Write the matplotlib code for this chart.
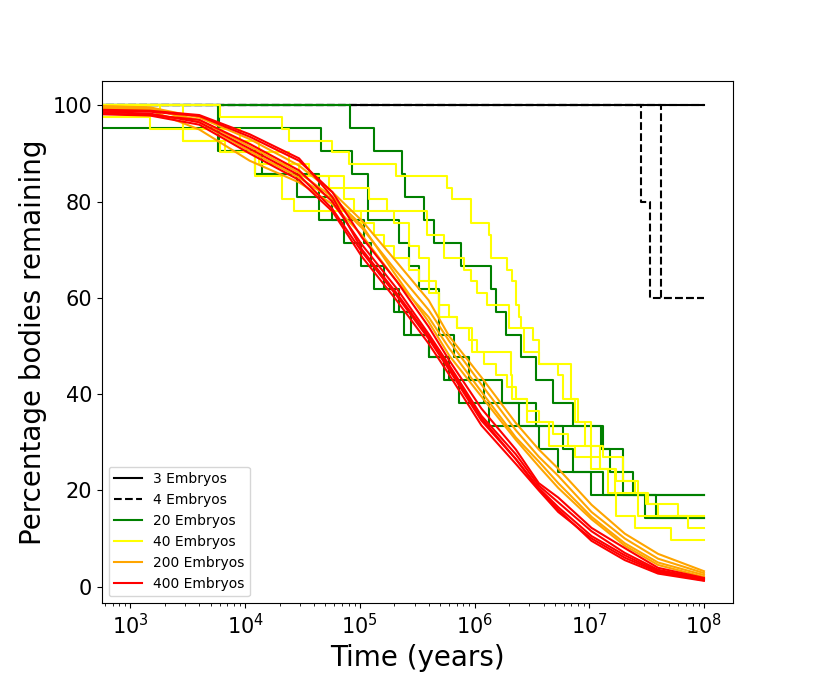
import numpy as np
import matplotlib
matplotlib.use("Agg")
import matplotlib.pyplot as plt

# times are stored as log10(years); bodies remaining as counts (step runs)
# or as percentages (large runs, read as smooth curves)

# 3 embryos (4 bodies) - nothing is lost
solid_logt = [2.5, 8.0]
solid_n = [4, 4]
solid_total = 4

# 4 embryos (5 bodies)
dash_runs = [
    ([2.5, 7.453, 7.531, 8.0], [5, 4, 3, 3]),
    ([2.5, 7.627, 8.0], [5, 3, 3]),
    ([2.5, 8.0], [5, 5]),
]
dash_total = 5

# 20 embryos (21 bodies)
green_runs = [
    ([2.5, 4.916, 5.124, 5.367, 5.393, 5.559, 5.645, 5.880, 6.141, 6.185,
      6.271, 6.402, 6.540, 6.688, 6.862, 7.105, 7.296, 7.383, 8.0],
     [21, 20, 19, 18, 17, 16, 15, 14, 13, 12, 11, 10, 9, 8, 7, 6, 5, 4, 4]),
    ([2.5, 4.664, 4.933, 5.072, 5.341, 5.428, 5.515, 5.689, 5.819, 5.950,
      6.237, 6.532, 7.123, 7.184, 7.296, 7.487, 8.0],
     [20, 19, 18, 16, 15, 14, 13, 11, 10, 9, 8, 7, 6, 5, 4, 3, 3]),
    ([2.5, 3.760, 4.082, 4.455, 4.759, 5.037, 5.098, 5.211, 5.341, 5.446,
      5.602, 5.776, 6.080, 6.384, 6.775, 6.862, 7.018, 8.0],
     [21, 19, 18, 17, 16, 15, 14, 13, 12, 11, 10, 9, 8, 7, 6, 5, 4, 4]),
    ([2.5, 3.769, 4.143, 4.646, 4.864, 5.011, 5.124, 5.298, 5.385, 5.602,
      5.732, 5.863, 6.124, 6.558, 6.732, 7.123, 7.583, 8.0],
     [21, 19, 18, 16, 15, 14, 13, 12, 11, 10, 9, 8, 7, 6, 5, 4, 3, 3]),
]
green_total = 21

# 40 embryos (41 bodies)
yellow_runs = [
    ([2.5, 3.778, 4.325, 4.386, 4.759, 4.907, 5.315, 5.758, 5.802, 5.967,
      6.124, 6.141, 6.280, 6.323, 6.358, 6.384, 6.402, 6.514, 6.558, 6.845,
      6.879, 6.966, 7.097, 7.166, 7.236, 7.401, 7.713, 8.0],
     [41, 40, 39, 38, 37, 36, 35, 34, 33, 31, 30, 28, 27, 26, 24, 23, 22, 21,
      19, 16, 14, 12, 10, 8, 6, 5, 4, 4]),
    ([2.5, 3.456, 3.778, 4.125, 4.473, 4.864, 5.081, 5.237, 5.585, 5.732,
      5.906, 5.967, 6.019, 6.106, 6.297, 6.428, 6.558, 6.732, 6.775, 6.905,
      7.018, 7.123, 7.296, 7.427, 7.514, 7.600, 8.0],
     [41, 38, 37, 36, 35, 34, 33, 32, 30, 28, 27, 26, 25, 24, 22, 20, 19, 18,
      16, 14, 12, 11, 9, 8, 7, 6, 6]),
    ([2.5, 3.169, 3.456, 3.821, 4.082, 4.325, 4.429, 5.298, 5.428, 5.515,
      5.602, 5.663, 5.689, 5.845, 5.976, 6.315, 6.323, 6.454, 6.645, 6.879,
      7.097, 7.236, 7.401, 7.496, 7.774, 7.861, 8.0],
     [40, 39, 38, 37, 35, 33, 32, 31, 29, 28, 26, 25, 23, 22, 20, 18, 16, 14,
      12, 11, 10, 9, 8, 7, 6, 5, 5]),
    ([2.5, 3.256, 3.456, 3.951, 4.125, 4.386, 4.560, 4.733, 4.864, 4.951,
      5.011, 5.124, 5.211, 5.298, 5.428, 5.515, 5.602, 5.689, 5.776, 5.845,
      5.950, 6.019, 6.080, 6.185, 6.280, 6.358, 6.454, 6.558, 6.688, 6.818,
      7.018, 7.227, 7.427, 8.0],
     [41, 40, 39, 38, 37, 36, 35, 34, 33, 32, 31, 30, 29, 28, 27, 26, 25, 24,
      23, 22, 21, 20, 19, 18, 17, 16, 15, 14, 13, 12, 10, 8, 6, 6]),
]
yellow_total = 41

# 200 and 400 embryos: percentages read at shared times
big_logt = [2.5, 3.17, 3.6, 4.04, 4.47, 4.76, 5.02, 5.32, 5.6, 5.78,
            6.06, 6.36, 6.56, 6.73, 7.02, 7.31, 7.6, 8.0]

orange_runs = [
    [100, 99.6, 97.5, 93, 87.5, 82, 76, 67.5, 59.5, 52, 43.5, 34, 28.5, 24.5, 17, 11, 6.8, 3.2],
    [100, 99.5, 96.5, 90.5, 85, 80.5, 74.5, 65.5, 57.5, 51, 42, 32.5, 27, 23, 15.5, 10, 5.8, 2.8],
    [99.5, 99.0, 95.0, 88.5, 84, 79.5, 73, 63.5, 56, 49.5, 40.5, 31, 26, 21.5, 14.5, 9, 5, 2.4],
    [99.8, 99.2, 97.0, 91.5, 86, 81, 75, 64.5, 55, 48, 39.5, 30.5, 25, 20.5, 14, 8.5, 4.5, 2.0],
]

red_runs = [
    [99.0, 98.7, 97.8, 93.5, 88.5, 82, 72.5, 63.5, 54, 47, 37, 28.5, 21.5, 18.5, 12.2, 8, 3.9, 1.8],
    [98.5, 98.0, 97.0, 92.0, 86.5, 80, 71, 62, 52.5, 46, 35.5, 27.5, 21, 17.5, 11.5, 7, 3.5, 1.6],
    [98.8, 98.3, 96.5, 91, 85.5, 78.5, 69.5, 60.5, 51.5, 45, 34.5, 26.5, 20.5, 16.5, 10.5, 6.5, 3.2, 1.5],
    [98.3, 97.9, 96.0, 90.0, 84.5, 78, 68.5, 59.5, 50.5, 44, 33.5, 25.5, 20, 15.5, 10, 6, 3, 1.3],
    [99.2, 98.9, 98.0, 94.0, 89, 81, 70, 61, 52, 45.5, 35, 26.5, 20.2, 16, 9.5, 5.5, 2.7, 1.2],
]


def years(logt):
    return 10 ** np.array(logt)


def pct(n, total):
    return 100.0 * np.array(n) / total


fig, ax = plt.subplots(figsize=(8.14, 6.78))

ax.plot(years(solid_logt), pct(solid_n, solid_total), color='black',
        drawstyle='steps-post', label='3 Embryos')

for i, (lt, n) in enumerate(dash_runs):
    ax.plot(years(lt), pct(n, dash_total), color='black', linestyle='--',
            drawstyle='steps-post', label='4 Embryos' if i == 0 else None)

for i, (lt, n) in enumerate(green_runs):
    ax.plot(years(lt), pct(n, green_total), color='green',
            drawstyle='steps-post', label='20 Embryos' if i == 0 else None)

for i, (lt, n) in enumerate(yellow_runs):
    ax.plot(years(lt), pct(n, yellow_total), color='yellow',
            drawstyle='steps-post', label='40 Embryos' if i == 0 else None)

for i, vals in enumerate(orange_runs):
    ax.plot(years(big_logt), vals, color='orange',
            label='200 Embryos' if i == 0 else None)

for i, vals in enumerate(red_runs):
    ax.plot(years(big_logt), vals, color='red',
            label='400 Embryos' if i == 0 else None)

ax.set_xscale('log')
ax.set_xlim(10 ** 2.75, 10 ** 8.25)
ax.set_ylim(-3.5, 105)
ax.set_xlabel('Time (years)', fontsize=20)
ax.set_ylabel('Percentage bodies remaining', fontsize=20)
ax.tick_params(axis='both', which='major', labelsize=15)
ax.legend(loc='lower left')

plt.savefig("out.png", dpi=100)
